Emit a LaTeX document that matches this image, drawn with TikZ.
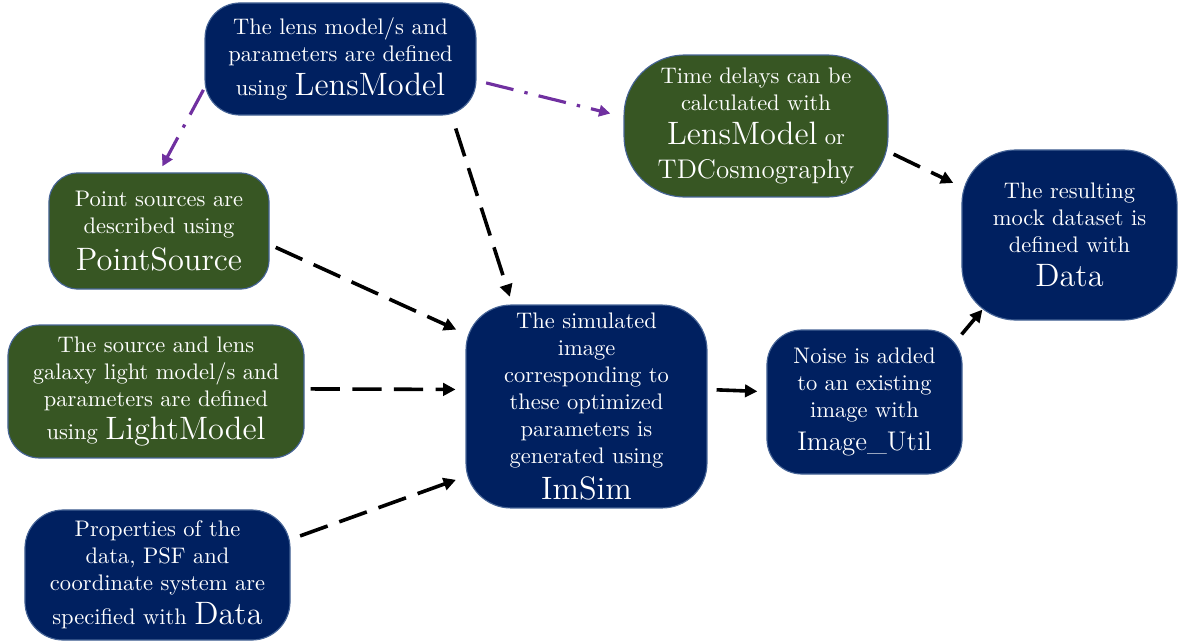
\documentclass[tikz,border=0pt]{standalone}
\usetikzlibrary{arrows.meta,calc}
\newlength\pxu \setlength\pxu{0.44444pt}
\definecolor{navy}{RGB}{0,32,96}
\definecolor{dgreen}{RGB}{55,86,35}
\definecolor{purp}{RGB}{112,48,160}
\definecolor{edgec}{RGB}{70,100,150}
\tikzset{
 box/.style={draw=edgec, line width=0.5pt, text=white, align=center, inner sep=0pt},
 navybox/.style={box, fill=navy},
 greenbox/.style={box, fill=dgreen},
 flow/.style={line width=1.6pt, dash pattern=on 13pt off 5.5pt, -{Triangle[length=5.5pt,width=5.5pt]}},
 defarrow/.style={draw=purp, line width=1.4pt, dash pattern=on 12.5pt off 5pt on 1.5pt off 5pt, -{Triangle[length=5pt,width=5pt,fill=purp]}},
}
\begin{document}
\begin{tikzpicture}[x=\pxu, y=-\pxu]
\useasboundingbox (0,0) rectangle (1182,643);

\node[navybox, minimum width=120.4pt, minimum height=49.8pt, rounded corners=15.5pt] (lens) at (340.5,59)
 {The lens model/s and\\ parameters are defined\\[3pt] using {\Large LensModel}};
\node[greenbox, minimum width=117.3pt, minimum height=63.1pt, rounded corners=27pt] (time) at (756,126)
 {Time delays can be\\ calculated with\\[3pt] {\Large LensModel} or\\[3pt] {\large TDCosmography}};
\node[greenbox, minimum width=97.8pt, minimum height=51.6pt, rounded corners=13pt] (point) at (159,231)
 {Point sources are\\ described using\\[3pt] {\Large PointSource}};
\node[navybox, minimum width=95.6pt, minimum height=75.6pt, rounded corners=24pt] (data) at (1069.5,235)
 {The resulting\\ mock dataset is\\ defined with\\[3pt] {\Large Data}};
\node[navybox, minimum width=107.1pt, minimum height=90.2pt, rounded corners=20pt] (sim) at (586.5,406.5)
 {The simulated\\ image\\ corresponding to\\ these optimized\\ parameters is\\ generated using\\[3pt] {\Large ImSim}};
\node[navybox, minimum width=86.7pt, minimum height=64pt, rounded corners=15.5pt] (noise) at (864.5,402)
 {Noise is added\\ to an existing\\ image with\\[3pt] {\large Image\_Util}};
\node[greenbox, minimum width=131.6pt, minimum height=59.1pt, rounded corners=14pt] (light) at (156,391.5)
 {The source and lens\\ galaxy light model/s and\\ parameters are defined\\[3pt] using {\Large LightModel}};
\node[navybox, minimum width=117.8pt, minimum height=57.8pt, rounded corners=17pt] (props) at (157.5,575)
 {Properties of the\\ data, PSF and\\ coordinate system are\\[3pt] specified with {\Large Data}};

\draw[defarrow, shorten <=1pt, shorten >=3pt] (lens.192) -- (point.north);
\draw[defarrow, shorten <=4.4pt, shorten >=6pt] (lens.351) -- (time.176);
\draw[flow, shorten <=6pt, shorten >=3.6pt] (lens.333) -- (sim.126);
\draw[flow, shorten <=3pt, shorten >=4.5pt] (point.353) -- (sim.149);
\draw[flow, shorten <=2.7pt, shorten >=4.4pt] (light.1) -- (sim.172);
\draw[flow, shorten <=4.5pt, shorten >=4.5pt] (props.15) -- (sim.210);
\draw[flow, shorten <=4pt, shorten >=4pt] (sim.8) -- (noise.174);
\draw[flow] ($(noise.north east)+(-1,5)$) -- ($(data.south west)+(21,-11)$);
\draw[flow, shorten <=2.5pt, shorten >=4pt] (time.349) -- (data.156);
\end{tikzpicture}
\end{document}
